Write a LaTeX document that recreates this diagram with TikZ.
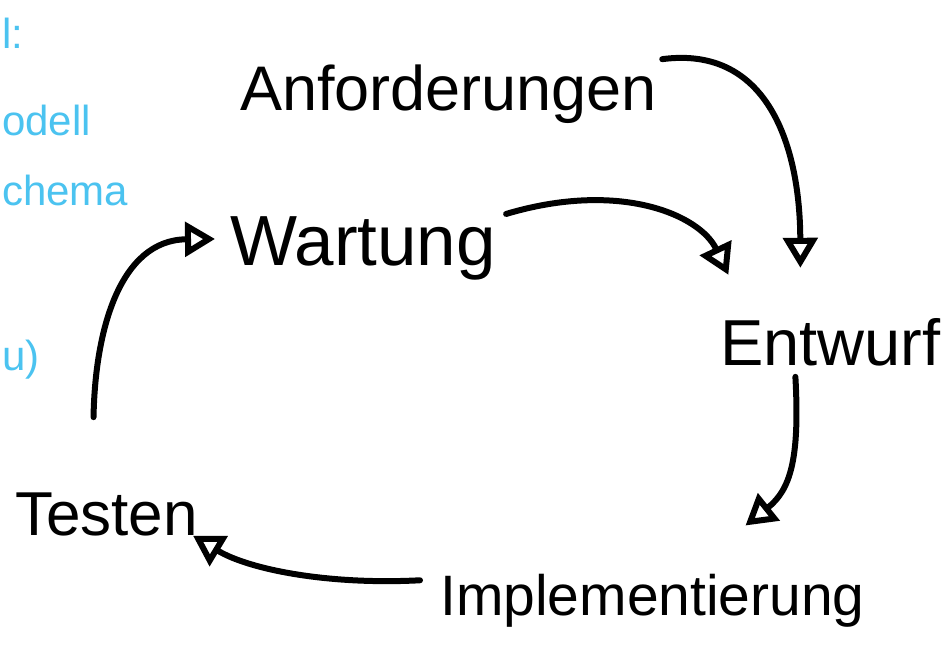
\documentclass[tikz,border=0pt]{standalone}
\usepackage{fontspec}
\setmainfont{Liberation Sans}
\usetikzlibrary{arrows.meta,calc}
\definecolor{inkblue}{HTML}{4BC3F0}
\tikzset{
  word/.style={inner sep=0pt, anchor=base west, text=black},
  note/.style={inner sep=0pt, anchor=base west, text=inkblue, font=\fontsize{42}{42}\selectfont},
  arr/.style={line width=6pt, line cap=round, line join=round,
    -{Triangle[open, length=30pt, width=34pt, line width=6pt]}}
}
\begin{document}
\begin{tikzpicture}[x=1pt, y=-1pt]
\useasboundingbox[fill=white] (0,0) rectangle (944,646);
% words
\node[word, font=\fontsize{63}{63}\selectfont] (anf) at (240,110) {Anforderungen};
\node[word, font=\fontsize{71}{71}\selectfont] (wart) at (230,265) {Wartung};
\node[word, font=\fontsize{65}{65}\selectfont] (ent) at (720,365) {Entwurf};
\node[word, font=\fontsize{57}{57}\selectfont] (impl) at (440,615) {Implementierung};
\node[word, font=\fontsize{62}{62}\selectfont] (test) at (15,535) {Testen};
% blue notes at the left edge
\node[note] (n1) at (2,48) {l:};
\node[note] (n2) at (2,135) {odell};
\node[note] (n3) at (2,205) {chema};
\node[note] (n4) at (2,370) {u)};
% connectors
\draw[arr] ($(anf.north east)+(5,-5)$) .. controls (770,45) and (800,150) .. ($(ent.north)+(-30,-50)$);
\draw[arr] ($(wart.north east)+(10,-2)$) .. controls (620,180) and (700,215) .. ($(ent.north)+(-102,-43)$);
\draw[arr] ($(ent.south)+(-35,11)$) .. controls (800,460) and (790,490) .. ($(impl.north)+(93,-48)$);
\draw[arr] ($(impl.west)+(-20,-20)$) .. controls (330,585) and (250,570) .. ($(test.south east)+(-5,0)$);
\draw[arr] ($(test.north)+(-13,-75)$) .. controls (95,330) and (120,240) .. ($(wart.west)+(-15,-9)$);
\end{tikzpicture}
\end{document}
